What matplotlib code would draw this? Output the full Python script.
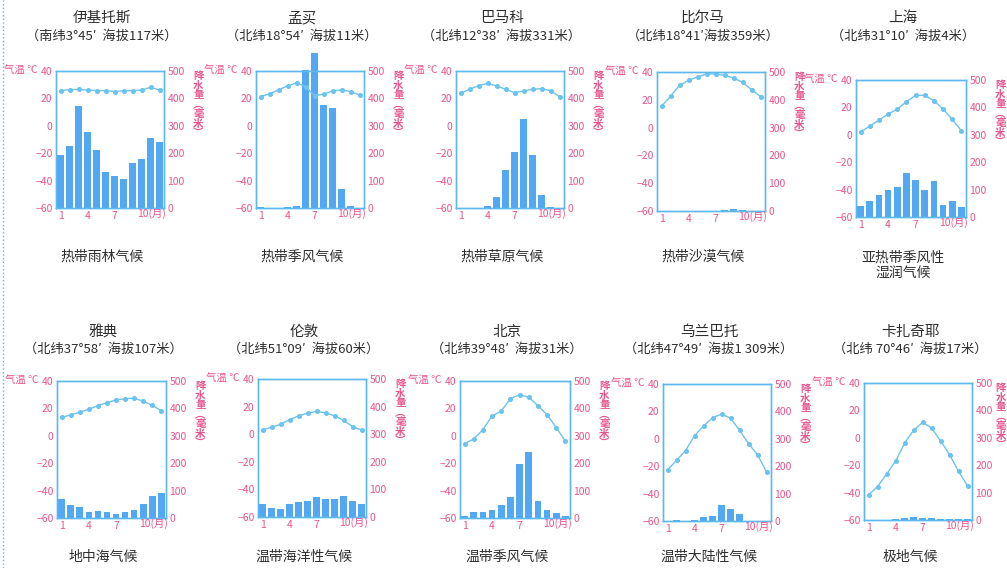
import matplotlib
matplotlib.use("Agg")
import matplotlib.pyplot as plt
from matplotlib.lines import Line2D

plt.rcParams['font.family'] = ['Noto Sans CJK SC', 'DejaVu Sans']

months = list(range(1, 13))

cities = ["伊基托斯", "孟买", "巴马科", "比尔马", "上海",
          "雅典", "伦敦", "北京", "乌兰巴托", "卡扎奇耶"]
coords = ["（南纬3°45′  海拔117米）", "（北纬18°54′  海拔11米）",
          "（北纬12°38′  海拔331米）", "（北纬18°41′海拔359米）",
          "（北纬31°10′  海拔4米）", "（北纬37°58′  海拔107米）",
          "（北纬51°09′  海拔60米）", "（北纬39°48′  海拔31米）",
          "（北纬47°49′  海拔1 309米）", "（北纬 70°46′  海拔17米）"]
climates = ["热带雨林气候", "热带季风气候", "热带草原气候", "热带沙漠气候",
            "亚热带季风性\n湿润气候", "地中海气候", "温带海洋性气候",
            "温带季风气候", "温带大陆性气候", "极地气候"]

# monthly mean temperature (°C)
temp_iquitos = [25.7, 26.4, 26.6, 26.1, 25.7, 25.7, 25.0, 25.5, 25.7, 26.0, 28.1, 26.1]
temp_mumbai = [21.3, 23.3, 26.2, 29.1, 31.3, 28.5, 22.0, 23.0, 25.4, 26.2, 25.0, 22.5]
temp_bamako = [23.7, 26.7, 29.3, 31.0, 29.1, 26.7, 24.2, 25.4, 26.7, 27.1, 25.7, 21.3]
temp_bilma = [15.3, 22.5, 30.4, 34.0, 36.4, 38.6, 38.6, 37.6, 35.7, 32.6, 27.3, 22.3]
temp_shanghai = [2.2, 6.3, 10.7, 15.1, 18.8, 24.1, 28.8, 28.8, 24.9, 18.8, 11.2, 2.9]
temp_athens = [13.5, 15.2, 17.2, 19.4, 22.0, 24.2, 26.2, 27.1, 27.4, 25.2, 22.3, 18.2]
temp_london = [3.1, 5.0, 7.2, 10.4, 13.3, 15.2, 16.5, 15.5, 13.3, 10.1, 5.5, 3.1]
temp_beijing = [-5.7, -2.3, 4.5, 14.5, 18.1, 27.1, 30.0, 28.1, 22.0, 15.4, 5.9, -3.8]
temp_ulaanbaatar = [-22.8, -15.7, -8.7, 2.3, 9.2, 15.3, 18.0, 15.1, 6.3, -3.5, -11.6, -24.1]
temp_kazachye = [-41.7, -35.6, -26.6, -17.1, -4.1, 5.4, 11.2, 7.3, -2.2, -12.2, -24.4, -35.1]

# monthly precipitation (mm)
prec_iquitos = [194, 225, 373, 279, 210, 130, 118, 107, 163, 178, 255, 240]
prec_mumbai = [3, 0, 0, 3, 6, 503, 564, 375, 365, 69, 7, 0]
prec_bamako = [1, 0, 1, 6, 40, 137, 206, 324, 192, 49, 4, 0]
prec_bilma = [0, 0, 0, 0, 0, 0, 1, 5, 7, 5, 1, 0]
prec_shanghai = [39, 59, 79, 100, 110, 159, 134, 100, 133, 45, 59, 37]
prec_athens = [70, 49, 40, 21, 27, 22, 16, 23, 28, 52, 81, 91]
prec_london = [46, 34, 30, 46, 53, 58, 72, 67, 64, 76, 59, 46]
prec_beijing = [8, 21, 22, 29, 49, 78, 198, 242, 61, 30, 17, 9]
prec_ulaanbaatar = [1, 5, 1, 5, 13, 17, 57, 45, 24, 1, 1, 1]
prec_kazachye = [1, 1, 1, 2, 7, 11, 6, 7, 5, 5, 5, 2]

temps = [temp_iquitos, temp_mumbai, temp_bamako, temp_bilma, temp_shanghai,
         temp_athens, temp_london, temp_beijing, temp_ulaanbaatar, temp_kazachye]
precs = [prec_iquitos, prec_mumbai, prec_bamako, prec_bilma, prec_shanghai,
         prec_athens, prec_london, prec_beijing, prec_ulaanbaatar, prec_kazachye]

# axes boxes in pixels: left, right, top, bottom
W, H = 1007, 568
boxes = [(56, 164, 71, 208), (256, 364, 71, 208), (456, 564, 71, 208),
         (657, 765, 72, 211), (856, 966, 80, 217),
         (57, 166, 381, 518), (258, 366, 379, 517), (460, 570, 381, 518),
         (663, 771, 384, 521), (864, 972, 383, 520)]
title_y = [(18, 36, 257), (332, 349, 557)]

PINK = '#e8558e'
FRAME = '#5cb8ee'
BAR = '#52a8f2'
LINE = '#6cc3ee'
TXT = '#2e2e2e'

fig = plt.figure(figsize=(W / 100, H / 100), dpi=100)
fig.patch.set_facecolor('white')

for i in range(10):
    l, r, t, b = boxes[i]
    ax = fig.add_axes([l / W, 1 - b / H, (r - l) / W, (b - t) / H])
    ax2 = ax.twinx()

    # precipitation bars on the right axis, temperature line on the left one
    ax2.bar(months, precs[i], width=0.72, color=BAR, clip_on=False, zorder=2)
    ax2.set_ylim(0, 500)
    ax2.set_yticks([0, 100, 200, 300, 400, 500])
    ax.set_ylim(-60, 40)
    ax.set_yticks([-60, -40, -20, 0, 20, 40])
    ax.set_xlim(0.5, 12.5)
    ax.set_xticks([1, 4, 7])
    ax.set_xticklabels(['1', '4', '7'])
    ax.text(9.55, -60, '10(月)', color=PINK, fontsize=7.5, ha='left', va='top',
            clip_on=False)
    ax.set_zorder(ax2.get_zorder() + 1)
    ax.patch.set_visible(False)
    ax.plot(months, temps[i], color=LINE, lw=1.0, marker='o', ms=2.6,
            mfc=LINE, mec=LINE)

    for a in (ax, ax2):
        for s in a.spines.values():
            s.set_color(FRAME)
            s.set_linewidth(1.0)
        a.tick_params(colors=PINK, labelsize=7.5, length=0, pad=2.5)
    ax.tick_params(axis='x', pad=2)

    ax.annotate('气温 ℃', xy=(0, 1), xycoords='axes fraction',
                xytext=(-13, 0), textcoords='offset points',
                ha='right', va='center', color=PINK, fontsize=7.5)
    # last panel sits at the page edge: pull its label in a little
    rx = 17 if i == 9 else 21
    ax.annotate('降\n水\n量\n︵\n毫\n米\n︶', xy=(1, 1), xycoords='axes fraction',
                xytext=(rx, 0), textcoords='offset points',
                ha='left', va='top', color=PINK, fontsize=7.5,
                linespacing=0.95, fontweight='bold')

    cx = ((l + r) / 2 - 8) / W
    ty = title_y[i // 5]
    fig.text(cx, 1 - ty[0] / H, cities[i], ha='center', va='center',
             fontsize=10.5, color=TXT)
    fig.text(cx, 1 - ty[1] / H, coords[i], ha='center', va='center',
             fontsize=9.5, color=TXT)
    if '\n' in climates[i]:
        fig.text(cx, 1 - (ty[2] + 8) / H, climates[i], ha='center', va='center',
                 fontsize=10, color=TXT, linespacing=1.15)
    else:
        fig.text(cx, 1 - ty[2] / H, climates[i], ha='center', va='center',
                 fontsize=10, color=TXT)

# dotted guide on the left margin
fig.add_artist(Line2D([3 / W, 3 / W], [0, 1], transform=fig.transFigure,
                      color=FRAME, lw=1.0, ls=':'))

fig.savefig('out.png', dpi=100)
